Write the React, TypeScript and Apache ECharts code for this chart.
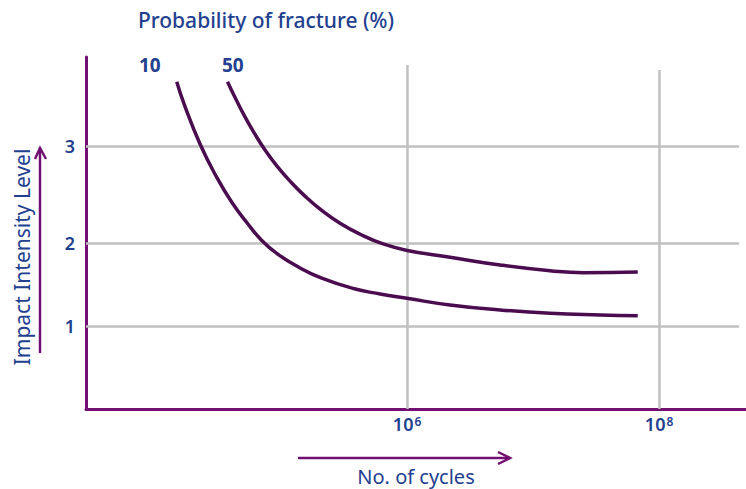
import React, { useEffect, useRef } from "react";
import * as echarts from "echarts";

// x values are log10(number of cycles); y values are impact intensity (axis units)
const seriesNames = ["10", "50"];
const curve10X = [4.172, 4.238, 4.357, 4.49, 4.609, 4.728, 4.847, 4.979, 5.137, 5.323, 5.574, 5.786, 5.998, 6.341, 6.738, 7.135, 7.532, 7.831];
const curve10Y = [3.943, 3.643, 3.192, 2.789, 2.49, 2.247, 2.03, 1.86, 1.711, 1.576, 1.451, 1.386, 1.334, 1.253, 1.193, 1.153, 1.133, 1.124];
const curve50X = [4.575, 4.635, 4.714, 4.794, 4.873, 4.968, 5.071, 5.19, 5.325, 5.468, 5.627, 5.81, 6.0, 6.341, 6.738, 7.135, 7.397, 7.831];
const curve50Y = [3.943, 3.753, 3.518, 3.307, 3.12, 2.925, 2.745, 2.564, 2.389, 2.237, 2.105, 1.988, 1.91, 1.828, 1.735, 1.666, 1.642, 1.651];

const xTickExponents = [6, 8];
const yTickPositions = [1, 2, 3.17];
const yTickLabels = ["1", "2", "3"];

const X_MIN = 3.452;
const X_MAX = 8.69;
const Y_MIN = 0;
const Y_MAX = 4.24;
const GRID_X_END = 8.635;
const VGRID_TOP = [4.145, 4.084];

const BLUE = "#23408f";
const PURPLE = "#711070";
const CURVE = "#4b0c4f";
const GRID = "#c0c0c0";
const FONT = "'Noto Sans', sans-serif";

export default function App() {
  const ref = useRef<HTMLDivElement>(null);
  useEffect(() => {
    if (!ref.current) return;
    const chart = echarts.init(ref.current, null, { renderer: "svg" });
    const toPairs = (xs: number[], ys: number[]) => xs.map((x, i) => [x, ys[i]]);

    const gridLines: any[] = [];
    yTickPositions.forEach((y) => {
      gridLines.push([{ coord: [X_MIN, y] }, { coord: [GRID_X_END, y] }]);
    });
    xTickExponents.forEach((x, i) => {
      gridLines.push([{ coord: [x, Y_MIN] }, { coord: [x, VGRID_TOP[i]] }]);
    });

    chart.setOption({
      animation: false,
      textStyle: { fontFamily: FONT },
      grid: { left: 86, right: 0, top: 57, bottom: 80, containLabel: false, outerBoundsMode: "none" },
      xAxis: {
        type: "value",
        min: X_MIN,
        max: X_MAX,
        name: "No. of cycles",
        nameLocation: "middle",
        nameGap: 57,
        nameTextStyle: { color: BLUE, fontSize: 20, fontFamily: FONT },
        axisLine: { show: true, lineStyle: { color: PURPLE, width: 3 } },
        axisTick: { show: false },
        splitLine: { show: false },
        axisLabel: {
          customValues: xTickExponents,
          margin: 6,
          formatter: (v: number) => `{b|10}{s|${Math.round(v)}}`,
          rich: {
            b: { fontSize: 18, fontWeight: 600, color: BLUE, fontFamily: FONT },
            s: { fontSize: 12, fontWeight: 600, color: BLUE, verticalAlign: "top", fontFamily: FONT, padding: [0, 0, 0, 1] },
          },
        },
      },
      yAxis: {
        type: "value",
        min: Y_MIN,
        max: Y_MAX,
        axisLine: { show: true, lineStyle: { color: PURPLE, width: 3 } },
        axisTick: { show: false },
        splitLine: { show: false },
        axisLabel: {
          customValues: yTickPositions,
          margin: 11,
          color: BLUE,
          fontSize: 18,
          fontWeight: 600,
          formatter: (v: number) => {
            const i = yTickPositions.findIndex((p) => Math.abs(p - v) < 1e-6);
            return i >= 0 ? yTickLabels[i] : "";
          },
        },
      },
      series: [
        {
          name: seriesNames[0],
          type: "line",
          smooth: 0.5,
          symbol: "none",
          z: 3,
          lineStyle: { color: CURVE, width: 3.5 },
          data: toPairs(curve10X, curve10Y),
          markLine: {
            silent: true,
            z: 1,
            symbol: ["none", "none"],
            label: { show: false },
            lineStyle: { color: GRID, width: 2.5, type: "solid" },
            data: gridLines,
          },
        },
        {
          name: seriesNames[1],
          type: "line",
          smooth: 0.5,
          symbol: "none",
          z: 3,
          lineStyle: { color: CURVE, width: 3.5 },
          data: toPairs(curve50X, curve50Y),
        },
      ],
      graphic: [
        {
          type: "text",
          left: 138,
          top: 9,
          style: { text: "Probability of fracture (%)", fill: BLUE, fontSize: 21, fontFamily: FONT, fontWeight: 500 },
        },
        {
          type: "text",
          x: 22,
          y: 257,
          rotation: Math.PI / 2,
          style: { text: "Impact Intensity Level", fill: BLUE, fontSize: 21, fontFamily: FONT, align: "center", verticalAlign: "middle" },
        },
        {
          type: "text",
          x: 139,
          y: 65,
          style: { text: seriesNames[0], fill: BLUE, fontSize: 19, fontWeight: 700, fontFamily: FONT, verticalAlign: "middle" },
        },
        {
          type: "text",
          x: 222,
          y: 65,
          style: { text: seriesNames[1], fill: BLUE, fontSize: 19, fontWeight: 700, fontFamily: FONT, verticalAlign: "middle" },
        },
        {
          type: "line",
          shape: { x1: 40, y1: 353, x2: 40, y2: 148 },
          style: { stroke: PURPLE, lineWidth: 2.5 },
        },
        {
          type: "polyline",
          shape: { points: [[35, 159], [40, 148], [46, 159]] },
          style: { stroke: PURPLE, lineWidth: 2.5, fill: "none" },
        },
        {
          type: "line",
          shape: { x1: 298, y1: 458, x2: 510, y2: 458 },
          style: { stroke: PURPLE, lineWidth: 2.5 },
        },
        {
          type: "polyline",
          shape: { points: [[498, 452], [510, 458], [498, 464]] },
          style: { stroke: PURPLE, lineWidth: 2.5, fill: "none" },
        },
      ],
    });
    return () => chart.dispose();
  }, []);
  return <div ref={ref} style={{ width: 746, height: 489, position: "absolute", left: 0, top: 0 }} />;
}
